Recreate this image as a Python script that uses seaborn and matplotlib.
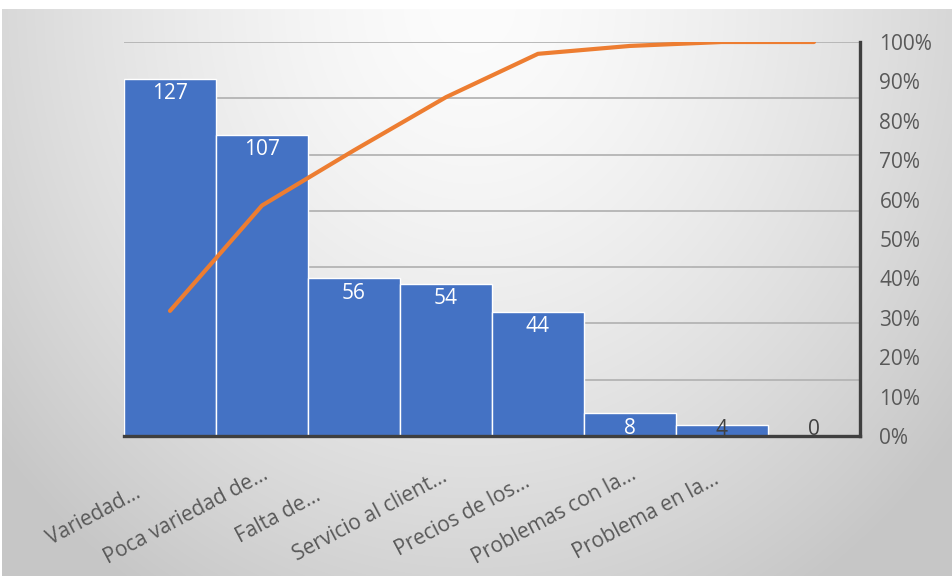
import numpy as np
import pandas as pd
import matplotlib
matplotlib.use("Agg")
import matplotlib.pyplot as plt
import matplotlib.transforms as mtransforms
from matplotlib.ticker import PercentFormatter, MultipleLocator
import seaborn as sns

# Pareto data: complaint categories (labels as shown on the axis) and counts
categories = [
    "Variedad...",
    "Poca variedad de...",
    "Falta de...",
    "Servicio al client...",
    "Precios de los...",
    "Problemas con la...",
    "Problema en la...",
    "",
]
counts = [127, 107, 56, 54, 44, 8, 4, 0]

BAR_COLOR = "#4472C4"
LINE_COLOR = "#ED7D31"
TEXT_COLOR = "#595959"
AXIS_COLOR = "#3F3F3F"

sns.set_theme(style="white")
plt.rcParams["font.family"] = ["Open Sans", "DejaVu Sans"]

df = pd.DataFrame({"categoria": categories, "frecuencia": counts})
df["acumulado"] = df["frecuencia"].cumsum() / df["frecuencia"].sum()
df["pos"] = np.arange(len(df))

W, H = 953, 579
fig = plt.figure(figsize=(W / 100, H / 100), dpi=100)
fig.patch.set_facecolor("white")

# soft radial grey backdrop, brightest near the top centre
bg = fig.add_axes([2 / W, 3 / H, 951 / W, 567 / H])
yy, xx = np.mgrid[0:567, 0:951]
d = np.sqrt(((xx - 470) / 620.0) ** 2 + ((yy + 5) / 700.0) ** 2)
shade = 252 - 54 * np.clip(d, 0, 1.0) ** 1.5
bg.imshow(np.dstack([shade] * 3) / 255.0, aspect="auto", interpolation="bilinear")
bg.set_axis_off()

left, right = 124 / W, 860 / W
bottom, top = 1 - 436 / H, 1 - 42 / H
ax = fig.add_axes([left, bottom, right - left, top - bottom])
ax.set_facecolor("none")

sns.barplot(data=df, x="categoria", y="frecuencia", order=categories,
            color=BAR_COLOR, width=1.0, edgecolor="white", linewidth=1.0,
            saturation=1.0, ax=ax, zorder=3)

ax.set_xlim(-0.5, len(df) - 0.5)
ax.set_ylim(0, 140)
ax.yaxis.set_major_locator(MultipleLocator(20))
ax.grid(axis="y", color="#B4B4B4", linewidth=1.3, zorder=0)
ax.grid(axis="x", visible=False)
ax.set_axisbelow(True)
ax.set_yticklabels([])
ax.tick_params(axis="y", length=0)
ax.set_xlabel("")
ax.set_ylabel("")
for side in ("left", "top", "right"):
    ax.spines[side].set_visible(False)
ax.spines["bottom"].set_color(AXIS_COLOR)
ax.spines["bottom"].set_linewidth(2.4)
ax.spines["bottom"].set_zorder(5)

# rotated category labels, centred below and left of each bar
ax.tick_params(axis="x", length=0, pad=0, labelsize=15, labelcolor=TEXT_COLOR)
shift = mtransforms.ScaledTranslation(-0.76, -0.80, fig.dpi_scale_trans)
for lab in ax.get_xticklabels():
    lab.set_rotation(28)
    lab.set_rotation_mode("anchor")
    lab.set_ha("center")
    lab.set_va("center")
    lab.set_transform(lab.get_transform() + shift)

# value labels at the inside end of each bar
min_anchor = 7.5
for x, v in zip(df["pos"], df["frecuencia"]):
    inside = v >= 8
    ax.annotate(f"{v}", xy=(x, max(v, min_anchor)), xytext=(0, -3),
                textcoords="offset points", ha="center", va="top",
                fontsize=15, color="white" if inside else "#404040", zorder=6)

# cumulative percentage on the secondary axis
ax2 = ax.twinx()
sns.lineplot(data=df, x="pos", y="acumulado", color=LINE_COLOR, linewidth=3.0,
             ax=ax2, zorder=4, solid_capstyle="round")
ax2.set_ylim(0, 1)
ax2.set_xlim(-0.5, len(df) - 0.5)
ax2.yaxis.set_major_locator(MultipleLocator(0.1))
ax2.yaxis.set_major_formatter(PercentFormatter(1.0, decimals=0))
ax2.tick_params(axis="y", length=0, pad=14, labelsize=15, labelcolor=TEXT_COLOR)
ax2.set_ylabel("")
ax2.set_xlabel("")
ax2.grid(False)
for side in ("left", "top", "bottom"):
    ax2.spines[side].set_visible(False)
ax2.spines["right"].set_color(AXIS_COLOR)
ax2.spines["right"].set_linewidth(2.4)

fig.savefig("out.png", dpi=100)
